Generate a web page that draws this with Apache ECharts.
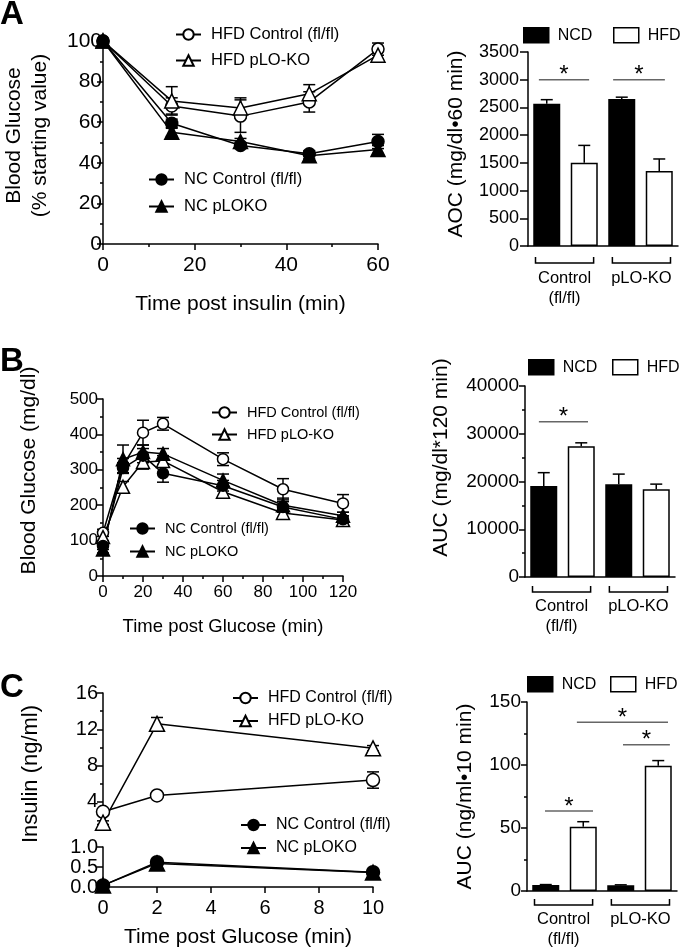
<!DOCTYPE html>
<html><head><meta charset="utf-8">
<script src="https://cdn.jsdelivr.net/npm/echarts@6/dist/echarts.min.js"></script>
<style>html,body{margin:0;padding:0;background:#fff}#c{width:680px;height:950px}</style>
</head><body><div id="c"></div>
<script>
// ---------- Panel A: insulin tolerance (% starting value) ----------
const itTime = [0, 15, 30, 45, 60];
const itHfdCtrl = [100, 68, 63, 70, 96];
const itHfdCtrlSem = [0, 4, 8, 5, 3];
const itHfdKo = [100, 70.5, 67, 74, 93];
const itHfdKoSem = [0, 7, 5, 4.5, 3];
const itNcCtrl = [100, 59.5, 48.5, 44.5, 50.5];
const itNcCtrlSem = [0, 2, 1.5, 1.5, 3.5];
const itNcKo = [100, 55, 50.5, 43.5, 46.5];
const itNcKoSem = [0, 2, 1.5, 1.5, 2];
// AOC bars (Control (fl/fl), pLO-KO)
const aocNCD = [2565, 2650];
const aocNCDSem = [75, 35];
const aocHFD = [1500, 1355];
const aocHFDSem = [315, 215];
const aocSig = [[-0.21, 1.13, 3000], [1.77, 3.15, 3000]];

// ---------- Panel B: glucose tolerance (mg/dl) ----------
const gtTime = [0, 10, 20, 30, 60, 90, 120];
const gtHfdCtrl = [122, 312, 405, 430, 330, 245, 205];
const gtHfdCtrlSem = [10, 20, 35, 18, 18, 30, 25];
const gtHfdKo = [110, 252, 322, 325, 238, 178, 158];
const gtHfdKoSem = [10, 15, 20, 15, 15, 15, 12];
const gtNcCtrl = [85, 305, 340, 290, 255, 195, 160];
const gtNcCtrlSem = [10, 15, 20, 25, 15, 15, 10];
const gtNcKo = [75, 330, 350, 345, 270, 200, 170];
const gtNcKoSem = [10, 40, 20, 15, 18, 20, 10];
// AUC bars
const aucNCD = [19050, 19450];
const aucNCDSem = [2800, 2100];
const aucHFD = [27400, 18400];
const aucHFDSem = [700, 1050];
const aucSig = [[-0.13, 1.18, 32500]];

// ---------- Panel C: insulin (ng/ml) ----------
const insTime = [0, 2, 10];
const insHfdCtrl = [2.9, 4.7, 6.4];
const insHfdCtrlSem = [0.3, 0.3, 0.9];
const insHfdKo = [1.7, 12.6, 9.9];
const insHfdKoSem = [0.2, 0.7, 0.3];
const insNcCtrl = [0.04, 0.62, 0.37];
const insNcCtrlSem = [0.02, 0.04, 0.03];
const insNcKo = [0.04, 0.59, 0.36];
const insNcKoSem = [0.02, 0.04, 0.03];
// AUC bars
const insAucNCD = [4.8, 4.6];
const insAucNCDSem = [0.3, 0.3];
const insAucHFD = [51, 99.5];
const insAucHFDSem = [4, 4];
const insAucSig = [[-0.02, 1.26, 63.5], [2.06, 3.31, 116], [0.83, 3.26, 134]];

// ---------- labels ----------
const barCats = ['Control NCD', 'Control HFD', 'pLO-KO NCD', 'pLO-KO HFD'];
const groupLabels = ['Control\n(fl/fl)', 'pLO-KO'];
const groupSpans = [[-0.3, 1.25], [1.75, 3.3]];
const nameHfdCtrl = 'HFD Control (fl/fl)';
const nameHfdKo = 'HFD pLO-KO';
const nameNcCtrl = 'NC Control (fl/fl)';
const nameNcKo = 'NC pLOKO';

const FONT = '"Liberation Sans", Arial, Helvetica, sans-serif';
const BLK = '#000';

function vAxis(p) {
  const a = {
    type: 'value', gridIndex: p.grid, min: p.min, max: p.max,
    show: p.show !== false,
    name: p.name || '', nameLocation: 'middle', nameGap: p.nameGap || 0,
    nameTextStyle: { fontSize: p.nameSize || 21, color: BLK, fontFamily: FONT, lineHeight: p.nameLH || 24, padding: p.namePad || 0 },
    axisLine: { show: p.line !== false, onZero: false, lineStyle: { color: BLK, width: 1.5 } },
    axisTick: { show: p.tick !== false, length: p.tickLen || 6, lineStyle: { color: BLK, width: 1.5 } },
    minorTick: { show: !!p.minor, splitNumber: p.minor || 2, length: 3, lineStyle: { color: BLK, width: 1.5 } },
    axisLabel: { show: p.label !== false, fontSize: p.labelSize || 18, color: BLK, fontFamily: FONT, margin: p.margin || 4,
      formatter: p.formatter || (v => String(v)) },
    splitLine: { show: false }
  };
  if (p.position) a.position = p.position;
  if (p.interval !== undefined) a.interval = p.interval;
  if (p.rotate !== undefined) a.nameRotate = p.rotate;
  if (p.labelValues) a.axisLabel.customValues = p.labelValues;
  if (p.tickValues) a.axisTick.customValues = p.tickValues;
  return a;
}
function cAxis(grid) {
  return {
    type: 'category', gridIndex: grid, data: barCats, boundaryGap: true,
    axisLine: { show: true, lineStyle: { color: BLK, width: 1.5 } },
    axisTick: { show: false }, axisLabel: { show: false }, splitLine: { show: false }
  };
}

function errLine(params, api) {
  const x = api.value(0), y = api.value(1), e = api.value(2);
  const up = api.value(3) === 1;
  const top = api.coord([x, y + e]);
  const bot = up ? api.coord([x, y]) : api.coord([x, y - e]);
  const w = 6;
  const st = { stroke: BLK, lineWidth: 1.5 };
  const ch = [
    { type: 'line', shape: { x1: top[0], y1: top[1], x2: bot[0], y2: bot[1] }, style: st },
    { type: 'line', shape: { x1: top[0] - w, y1: top[1], x2: top[0] + w, y2: top[1] }, style: st }
  ];
  if (!up) ch.push({ type: 'line', shape: { x1: bot[0] - w, y1: bot[1], x2: bot[0] + w, y2: bot[1] }, style: st });
  return { type: 'group', children: ch };
}

function pts(xs, ys) { return xs.map((x, i) => [x, ys[i]]); }
function errPts(xs, ys, es) { return xs.map((x, i) => [x, ys[i], es[i], 0]); }

function lineSeries(name, xi, yi, xs, ys, open, tri, size) {
  return {
    type: 'line', name: name, xAxisIndex: xi, yAxisIndex: yi, data: pts(xs, ys),
    symbol: tri ? 'triangle' : 'circle', symbolSize: tri ? size + 2 : size,
    showSymbol: true, z: 3,
    lineStyle: { color: BLK, width: 1.5 },
    itemStyle: { color: open ? '#fff' : BLK, borderColor: BLK, borderWidth: 1.5 }
  };
}
function errSeries(xi, yi, data) {
  return { type: 'custom', name: 'sem', xAxisIndex: xi, yAxisIndex: yi, renderItem: errLine, data: data, z: 1, silent: true };
}
function barPair(xi, yi, ncd, ncdE, hfd, hfdE) {
  const a = [ncd[0], '-', ncd[1], '-'];
  const b = ['-', hfd[0], '-', hfd[1]];
  const e = [[0, ncd[0], ncdE[0], 1], [1, hfd[0], hfdE[0], 1], [2, ncd[1], ncdE[1], 1], [3, hfd[1], hfdE[1], 1]];
  return [
    { type: 'bar', name: 'NCD', xAxisIndex: xi, yAxisIndex: yi, data: a, barWidth: 27, barGap: '-100%',
      itemStyle: { color: BLK, borderColor: BLK, borderWidth: 1.5 } },
    { type: 'bar', name: 'HFD', xAxisIndex: xi, yAxisIndex: yi, data: b, barWidth: 27, barGap: '-100%',
      itemStyle: { color: '#fff', borderColor: BLK, borderWidth: 1.5 } },
    { type: 'custom', name: 'sem', xAxisIndex: xi, yAxisIndex: yi, renderItem: errLine, data: e, z: 4, silent: true }
  ];
}
function lineLegend(names, left, top, gap, fs) {
  return { data: names, orient: 'vertical', left: left, top: top, padding: 0, itemGap: gap,
    itemWidth: 25, itemHeight: 13, selectedMode: false,
    textStyle: { fontSize: fs, color: BLK, fontFamily: FONT, padding: [0, 0, 0, 5] } };
}
function barLegend(name, left, top) {
  return { data: [name], orient: 'horizontal', left: left, top: top, padding: 0, width: 100, icon: 'rect',
    itemWidth: 25, itemHeight: 15, selectedMode: false,
    itemStyle: { borderColor: BLK, borderWidth: 1.5 },
    textStyle: { fontSize: 16, color: BLK, fontFamily: FONT, padding: [0, 0, 0, 4] } };
}

const grids = [
  { left: 103, top: 41, width: 275, height: 203 },     // 0 A line
  { left: 528, top: 52, width: 150, height: 194 },     // 1 A bar
  { left: 103, top: 399, width: 240, height: 177 },    // 2 B line
  { left: 525, top: 386, width: 150, height: 191 },    // 3 B bar
  { left: 103, top: 693, width: 270, height: 136 },    // 4 C upper
  { left: 103, top: 847, width: 270, height: 41 },     // 5 C lower
  { left: 527, top: 702, width: 150, height: 189 }     // 6 C bar
];

const xAxes = [
  vAxis({ grid: 0, min: 0, max: 60, interval: 20, minor: 2, labelSize: 21, margin: 11, name: 'Time post insulin (min)', nameGap: 48, nameSize: 21 }),
  cAxis(1),
  vAxis({ grid: 2, min: 0, max: 120, interval: 20, minor: 2, labelSize: 17, margin: 8, name: 'Time post Glucose (min)', nameGap: 39, nameSize: 18.5 }),
  cAxis(3),
  vAxis({ grid: 4, min: 0, max: 10, show: false }),
  vAxis({ grid: 5, min: 0, max: 10, interval: 2, labelSize: 20, margin: 11, name: 'Time post Glucose (min)', nameGap: 38, nameSize: 21 }),
  cAxis(6)
];
const yAxes = [
  vAxis({ grid: 0, position: 'left', min: 0, max: 100, interval: 20, minor: 2, labelSize: 21, margin: 1, name: 'Blood Glucose\n(% starting value)', nameGap: 50, nameSize: 21, nameLH: 26, rotate: 90, namePad: [0, 0, 0, 14] }),
  vAxis({ grid: 1, position: 'left', min: 0, max: 3500, interval: 500, labelSize: 18, margin: 9, tickLen: 8, name: 'AOC (mg/dl\u202260 min)', nameGap: 60, nameSize: 21, rotate: 90, namePad: [0, 0, 0, 10] }),
  vAxis({ grid: 2, position: 'left', min: 0, max: 500, interval: 100, minor: 2, labelSize: 17, margin: 5, name: 'Blood Glucose (mg/dl)', nameGap: 62, nameSize: 21, rotate: 90, namePad: [0, 0, 0, 34] }),
  vAxis({ grid: 3, position: 'left', min: 0, max: 40000, interval: 10000, minor: 2, labelSize: 19, margin: 6, name: 'AUC (mg/dl*120 min)', nameGap: 72, nameSize: 21, rotate: 90, namePad: [0, 0, 0, 48] }),
  vAxis({ grid: 4, position: 'left', min: 1, max: 16, labelSize: 20, margin: 5, labelValues: [4, 8, 12, 16], tickValues: [4, 8, 12, 16], name: 'Insulin (ng/ml)', nameGap: 60, nameSize: 22, rotate: 90, namePad: [0, 26, 0, 0] }),
  vAxis({ grid: 5, position: 'left', min: 0, max: 1, interval: 0.5, labelSize: 20, margin: 5, formatter: v => v.toFixed(1) }),
  vAxis({ grid: 6, position: 'left', min: 0, max: 150, interval: 50, minor: 2, labelSize: 19, margin: 6, name: 'AUC (ng/ml\u202210 min)', nameGap: 50, nameSize: 21, rotate: 90 }),
  vAxis({ grid: 4, position: 'left', min: 1, max: 16, line: false, label: false, tickLen: 3, tickValues: [2, 6, 10, 14] })
];

const series = [
  // A line
  errSeries(0, 0, errPts(itTime, itHfdCtrl, itHfdCtrlSem)),
  errSeries(0, 0, errPts(itTime, itHfdKo, itHfdKoSem)),
  errSeries(0, 0, errPts(itTime, itNcCtrl, itNcCtrlSem)),
  errSeries(0, 0, errPts(itTime, itNcKo, itNcKoSem)),
  lineSeries(nameHfdCtrl, 0, 0, itTime, itHfdCtrl, true, false, 12),
  lineSeries(nameHfdKo, 0, 0, itTime, itHfdKo, true, true, 12),
  lineSeries(nameNcKo, 0, 0, itTime, itNcKo, false, true, 12),
  lineSeries(nameNcCtrl, 0, 0, itTime, itNcCtrl, false, false, 12),
  // A bar
  ...barPair(1, 1, aocNCD, aocNCDSem, aocHFD, aocHFDSem),
  // B line
  errSeries(2, 2, errPts(gtTime, gtHfdCtrl, gtHfdCtrlSem)),
  errSeries(2, 2, errPts(gtTime, gtHfdKo, gtHfdKoSem)),
  errSeries(2, 2, errPts(gtTime, gtNcCtrl, gtNcCtrlSem)),
  errSeries(2, 2, errPts(gtTime, gtNcKo, gtNcKoSem)),
  lineSeries(nameHfdCtrl, 2, 2, gtTime, gtHfdCtrl, true, false, 11),
  lineSeries(nameHfdKo, 2, 2, gtTime, gtHfdKo, true, true, 11),
  lineSeries(nameNcKo, 2, 2, gtTime, gtNcKo, false, true, 11),
  lineSeries(nameNcCtrl, 2, 2, gtTime, gtNcCtrl, false, false, 11),
  // B bar
  ...barPair(3, 3, aucNCD, aucNCDSem, aucHFD, aucHFDSem),
  // C line upper (HFD)
  errSeries(4, 4, errPts(insTime, insHfdCtrl, insHfdCtrlSem)),
  errSeries(4, 4, errPts(insTime, insHfdKo, insHfdKoSem)),
  lineSeries(nameHfdCtrl, 4, 4, insTime, insHfdCtrl, true, false, 13),
  lineSeries(nameHfdKo, 4, 4, insTime, insHfdKo, true, true, 13),
  // C line lower (NC)
  errSeries(5, 5, errPts(insTime, insNcCtrl, insNcCtrlSem)),
  errSeries(5, 5, errPts(insTime, insNcKo, insNcKoSem)),
  lineSeries(nameNcKo, 5, 5, insTime, insNcKo, false, true, 13),
  lineSeries(nameNcCtrl, 5, 5, insTime, insNcCtrl, false, false, 13),
  // C bar
  ...barPair(6, 6, insAucNCD, insAucNCDSem, insAucHFD, insAucHFDSem)
];

const legends = [
  lineLegend([nameHfdCtrl, nameHfdKo], 175, 26, 9, 16.5),
  lineLegend([nameNcCtrl, nameNcKo], 148, 171, 10, 16.5),
  barLegend('NCD', 523, 27), barLegend('HFD', 613, 27),
  lineLegend([nameHfdCtrl, nameHfdKo], 211, 405, 7, 14.5),
  lineLegend([nameNcCtrl, nameNcKo], 129, 521, 8, 14.5),
  barLegend('NCD', 528, 359), barLegend('HFD', 612, 359),
  lineLegend([nameHfdCtrl, nameHfdKo], 232, 690, 7, 16),
  lineLegend([nameNcCtrl, nameNcKo], 240, 817, 7, 16),
  barLegend('NCD', 527, 676), barLegend('HFD', 610, 676)
];

const chart = echarts.init(document.getElementById('c'), null, { renderer: 'canvas' });
chart.setOption({
  animation: false,
  backgroundColor: '#fff',
  textStyle: { fontFamily: FONT, color: BLK },
  grid: grids, xAxis: xAxes, yAxis: yAxes, legend: legends, series: series
});

// ---------- annotations placed through the axes ----------
function catPx(ax, c) {
  const a = chart.convertToPixel({ xAxisIndex: ax, yAxisIndex: ax }, [0, 0]);
  const b = chart.convertToPixel({ xAxisIndex: ax, yAxisIndex: ax }, [1, 0]);
  return a[0] + (b[0] - a[0]) * c;
}
function valPx(ax, v) { return chart.convertToPixel({ xAxisIndex: ax, yAxisIndex: ax }, [0, v])[1]; }

const gfx = [];
const letters = [['A', 0, -2], ['B', 0, 345], ['C', 0, 671]];
letters.forEach(l => gfx.push({ type: 'text', left: l[1], top: l[2], style: { text: l[0], font: 'bold 33px ' + FONT, fill: BLK } }));

const barPanels = [
  { ax: 1, sig: aocSig, brOff: 17, lblOff: 5 },
  { ax: 3, sig: aucSig, brOff: 15, lblOff: 4 },
  { ax: 6, sig: insAucSig, brOff: 14, lblOff: 4 }
];
barPanels.forEach(p => {
  const y0 = valPx(p.ax, 0);
  const by = y0 + p.brOff;
  groupSpans.forEach((s, gi) => {
    const x1 = catPx(p.ax, s[0]), x2 = catPx(p.ax, s[1]);
    gfx.push({ type: 'polyline', shape: { points: [[x1, by - 6], [x1, by], [x2, by], [x2, by - 6]] }, style: { stroke: BLK, lineWidth: 1.5, fill: null } });
    gfx.push({ type: 'text', x: (x1 + x2) / 2, y: by + p.lblOff, style: { text: groupLabels[gi], font: '16.5px ' + FONT, fill: BLK, align: 'center', verticalAlign: 'top', lineHeight: 20 } });
  });
  p.sig.forEach(s => {
    const x1 = catPx(p.ax, s[0]), x2 = catPx(p.ax, s[1]), y = valPx(p.ax, s[2]);
    gfx.push({ type: 'line', shape: { x1: x1, y1: y, x2: x2, y2: y }, style: { stroke: '#666', lineWidth: 1.5 } });
    gfx.push({ type: 'text', x: (x1 + x2) / 2, y: y + 8, style: { text: '*', font: '24px ' + FONT, fill: BLK, align: 'center', verticalAlign: 'bottom' } });
  });
});
chart.setOption({ graphic: gfx });
</script>
</body></html>
